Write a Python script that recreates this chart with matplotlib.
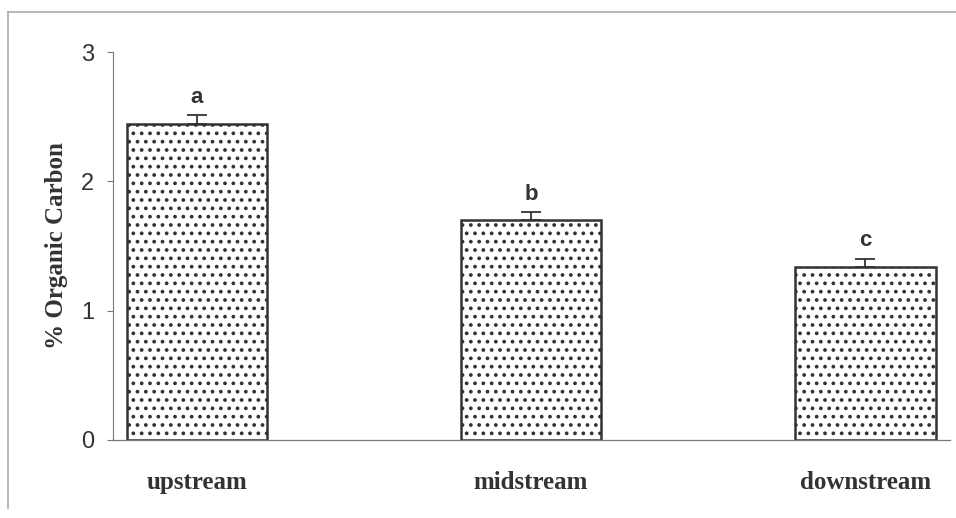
import numpy as np
import matplotlib.pyplot as plt
from matplotlib.lines import Line2D

# Data
sites = ["upstream", "midstream", "downstream"]
carbon = [2.44, 1.70, 1.34]
err = [0.07, 0.06, 0.06]
letters = ["a", "b", "c"]

plt.rcParams["hatch.linewidth"] = 1.5
plt.rcParams["hatch.color"] = "#707070"

fig = plt.figure(figsize=(9.56, 5.18), dpi=100)
ax = fig.add_axes([0.118, 0.1506, 0.876, 0.749])

x = np.arange(len(sites))
bars = ax.bar(x, carbon, width=0.42, color="white", edgecolor="#333333",
              linewidth=1.8, hatch="..", zorder=2)
ax.errorbar(x, carbon, yerr=[np.zeros(3), err], fmt="none", ecolor="#333333",
            elinewidth=1.3, capsize=7, capthick=1.3, zorder=3)

for xi, h, e, lab in zip(x, carbon, err, letters):
    ax.text(xi, h + e + 0.06, lab, ha="center", va="bottom",
            fontsize=16, fontweight="bold", color="#333333",
            family="Liberation Sans")

ax.set_xlim(-0.251, 2.254)
ax.set_ylim(0, 3)
ax.set_yticks([0, 1, 2, 3])
ax.set_xticks(x)
ax.set_xticklabels(sites, family="Liberation Serif", fontweight="bold",
                   fontsize=18, color="#333333")
for t in ax.get_yticklabels():
    t.set_family("Liberation Sans")
    t.set_fontsize(17)
    t.set_color("#333333")
ax.tick_params(axis="y", length=4.5, width=0.8, color="#777777", pad=9)
ax.tick_params(axis="x", length=0, pad=22)

for s in ["top", "right"]:
    ax.spines[s].set_visible(False)
ax.spines["left"].set_color("#777777")
ax.spines["left"].set_linewidth(0.8)
ax.spines["bottom"].set_color("#777777")
ax.spines["bottom"].set_linewidth(0.9)

ax.set_ylabel("% Organic Carbon", family="Liberation Serif", fontweight="bold",
              fontsize=18, color="#333333", labelpad=9)

# outer frame
fig.add_artist(Line2D([0.0085, 1.0], [0.977, 0.977], color="#aaaaaa", lw=1.2))
fig.add_artist(Line2D([0.0085, 0.0085], [0.977, 0.02], color="#aaaaaa", lw=1.2))

fig.savefig("out.png", dpi=100)
